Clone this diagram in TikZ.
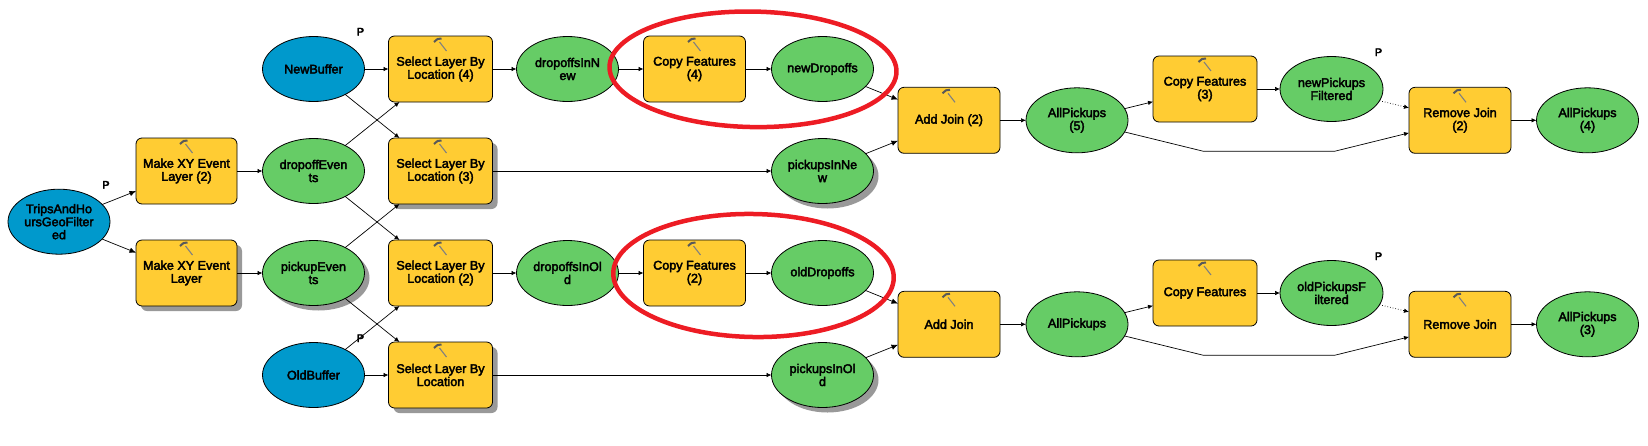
\documentclass[tikz,border=0pt]{standalone}
\usepackage{fontspec}
\setmainfont{Liberation Sans}
\newfontfamily\modelfont[FakeBold=3]{Liberation Sans}
\usepackage{xcolor}
\usepackage{tikz}
\usetikzlibrary{arrows.meta, positioning, shapes.geometric, shadows, calc}
\definecolor{toolyellow}{RGB}{255,204,51}
\definecolor{dataGreen}{RGB}{102,204,102}
\definecolor{inputBlue}{RGB}{0,153,204}
\definecolor{ringred}{RGB}{237,28,36}
\definecolor{shadowgray}{RGB}{153,153,153}

\begin{document}
\begin{tikzpicture}[
		x=1pt, y=-1pt,
		every node/.style={font=\fontsize{12.6}{13}\modelfont\selectfont, align=center, inner sep=0pt, outer sep=0pt},
		toolnode/.style={rectangle, rounded corners=6pt, draw=black, fill=toolyellow, line width=0.8pt, minimum width=102pt, minimum height=66pt},
		datanode/.style={ellipse, draw=black, fill=dataGreen, line width=0.8pt, minimum width=102pt, minimum height=65pt},
		inputnode/.style={datanode, fill=inputBlue},
		shaded/.style={drop shadow={shadow xshift=5pt, shadow yshift=-5pt, fill=shadowgray, opacity=1}},
		flow/.style={-{Latex[length=5pt, width=4.5pt]}, line width=0.7pt},
		bigflow/.style={-{Latex[length=6.5pt, width=5.5pt]}, line width=0.7pt},
		ring/.style={ellipse, draw=ringred, line width=4.5pt},
		pmark/.style={font=\fontsize{11}{12}\modelfont\selectfont, xshift=47pt},
		hammer/.pic={
			\draw[line width=1.1pt, black!50] (-1,-2) -- (6,7);
			\draw[line width=2pt, black!65] (-6.5,-2) -- (-3,-5) -- (1,-5.5);
		},
	]
		%Nodes
		\useasboundingbox (0,0) rectangle (1648,445);
		\node (trips) [inputnode] at (59,221.7) {TripsAndHo\\ursGeoFilter\\ed};
		\node (makexytwo) [toolnode, right=26pt of trips, yshift=50.7pt, minimum width=101pt] {Make XY Event\\Layer (2)};
		\node (makexy) [toolnode, shaded, right=26pt of trips, yshift=-51.3pt, minimum width=101pt] {Make XY Event\\Layer};

		\node (dropoffevents) [datanode, right=25.5pt of makexytwo] {dropoffEven\\ts};
		\node (pickupevents) [datanode, shaded, right=25.5pt of makexy] {pickupEven\\ts};
		\node (newbuffer) [inputnode, above=37pt of dropoffevents] {NewBuffer};
		\node (oldbuffer) [inputnode, below=37pt of pickupevents] {OldBuffer};

		\node (selectfour) [toolnode, right=24pt of newbuffer, minimum width=104pt] {Select Layer By\\Location (4)};
		\node (selectthree) [toolnode, shaded, right=24pt of dropoffevents, minimum width=104pt] {Select Layer By\\Location (3)};
		\node (selecttwo) [toolnode, right=24pt of pickupevents, minimum width=104pt] {Select Layer By\\Location (2)};
		\node (selectone) [toolnode, shaded, right=24pt of oldbuffer, minimum width=104pt] {Select Layer By\\Location};

		\node (dropoffsnew) [datanode, right=24pt of selectfour] {dropoffsInN\\ew};
		\node (dropoffsold) [datanode, right=24pt of selecttwo] {dropoffsInOl\\d};
		\node (copyfour) [toolnode, right=25pt of dropoffsnew] {Copy Features\\(4)};
		\node (copytwo) [toolnode, right=25pt of dropoffsold] {Copy Features\\(2)};
		\node (newdropoffs) [datanode, right=26pt of copyfour] {newDropoffs};
		\node (olddropoffs) [datanode, right=26pt of copytwo] {oldDropoffs};
		\node (pickupsnew) [datanode, shaded, below=37pt of newdropoffs] {pickupsInNe\\w};
		\node (pickupsold) [datanode, shaded, below=37pt of olddropoffs] {pickupsInOl\\d};

		\node (addjointwo) [toolnode] at (949,120.3) {Add Join (2)};
		\node (addjoin) [toolnode] at (949,324.3) {Add Join};
		\node (allfive) [datanode, right=26pt of addjointwo] {AllPickups\\(5)};
		\node (allplain) [datanode, right=26pt of addjoin] {AllPickups};
		\node (copythree) [toolnode, minimum width=104pt] at (1205,89) {Copy Features\\(3)};
		\node (copyone) [toolnode, minimum width=104pt] at (1205,293) {Copy Features};
		\node (newpickups) [datanode, right=23pt of copythree, minimum width=103pt] {newPickups\\Filtered};
		\node (oldpickups) [datanode, right=23pt of copyone, minimum width=103pt] {oldPickupsF\\iltered};
		\node (removetwo) [toolnode] at (1460,120.3) {Remove Join\\(2)};
		\node (removeone) [toolnode] at (1460,324.3) {Remove Join};
		\node (allfour) [datanode, right=25.5pt of removetwo] {AllPickups\\(4)};
		\node (allthree) [datanode, right=25.5pt of removeone] {AllPickups\\(3)};

		\node (ptrips) [pmark, above=0.5pt of trips] {P};
		\node (pnew) [pmark, above=1pt of newbuffer] {P};
		\node (pold) [pmark, above=0.5pt of oldbuffer] {P};
		\node (pnewpick) [pmark, above=0.5pt of newpickups] {P};
		\node (poldpick) [pmark, above=0.5pt of oldpickups] {P};

		%Hammers
		\foreach \tool in {makexytwo, makexy, selectfour, selectthree, selecttwo, selectone, copyfour, copytwo, addjointwo, addjoin, copythree, copyone, removetwo, removeone}
			\pic at ($(\tool.north) + (0,8)$) {hammer};

		%Lines
		\draw[bigflow] (trips) -- (makexytwo);
		\draw[bigflow] (trips) -- (makexy);
		\draw[flow] (makexytwo) -- (dropoffevents);
		\draw[flow] (makexy) -- (pickupevents);
		\draw[flow] (newbuffer) -- (selectfour);
		\draw[flow] (newbuffer) -- (selectthree);
		\draw[flow] (dropoffevents) -- (selectfour);
		\draw[flow] (dropoffevents) -- (selecttwo);
		\draw[flow] (pickupevents) -- (selectthree);
		\draw[flow] (pickupevents) -- (selectone);
		\draw[flow] (oldbuffer) -- (selecttwo);
		\draw[flow] (oldbuffer) -- (selectone);
		\draw[flow] (selectfour) -- (dropoffsnew);
		\draw[flow] (selecttwo) -- (dropoffsold);
		\draw[flow] (selectthree) -- (pickupsnew);
		\draw[flow] (selectone) -- (pickupsold);
		\draw[flow] (dropoffsnew) -- (copyfour);
		\draw[flow] (dropoffsold) -- (copytwo);
		\draw[flow] (copyfour) -- (newdropoffs);
		\draw[flow] (copytwo) -- (olddropoffs);
		\draw[bigflow] (newdropoffs) -- (addjointwo);
		\draw[bigflow] (olddropoffs) -- (addjoin);
		\draw[bigflow] (pickupsnew) -- (addjointwo);
		\draw[bigflow] (pickupsold) -- (addjoin);
		\draw[flow] (addjointwo) -- (allfive);
		\draw[flow] (addjoin) -- (allplain);
		\draw[flow] (allfive) -- (copythree);
		\draw[flow] (allplain) -- (copyone);
		\draw[flow] (copythree) -- (newpickups);
		\draw[flow] (copyone) -- (oldpickups);
		\draw[flow, dotted] (newpickups) -- (removetwo);
		\draw[flow, dotted] (oldpickups) -- (removeone);
		\draw[flow] (removetwo) -- (allfour);
		\draw[flow] (removeone) -- (allthree);

		\coordinate (bendnewa) at (1203.5,151.3);
		\coordinate (bendnewb) at (1334.5,151.3);
		\coordinate (bendolda) at (1203.5,355.3);
		\coordinate (bendoldb) at (1334.5,355.3);
		\draw[flow] (allfive) -- (bendnewa) -- (bendnewb) -- (removetwo);
		\draw[flow] (allplain) -- (bendolda) -- (bendoldb) -- (removeone);

		%Rings
		\node (ringnew) [ring, minimum width=287pt, minimum height=115.5pt, rotate=-1] at (753,69.3) {};
		\node (ringold) [ring, minimum width=280.5pt, minimum height=123pt, rotate=-1] at (753.5,275.5) {};
	\end{tikzpicture}
\end{document}
